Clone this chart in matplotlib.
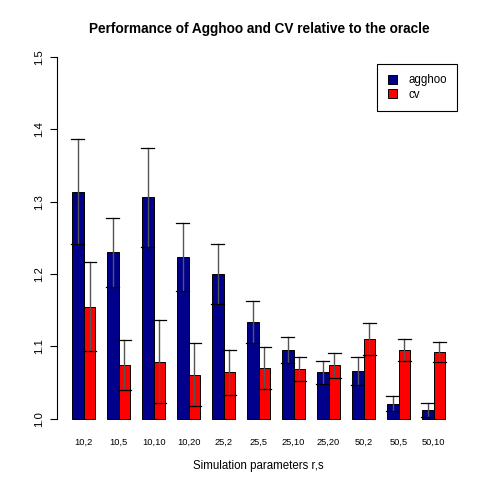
import numpy as np
import matplotlib
matplotlib.use('Agg')
import matplotlib.pyplot as plt
from matplotlib.patches import Patch

plt.rcParams['font.family'] = ['Liberation Sans', 'DejaVu Sans']

# data
params = ['10,2', '10,5', '10,10', '10,20', '25,2', '25,5',
          '25,10', '25,20', '50,2', '50,5', '50,10']
agghoo = [1.314, 1.230, 1.306, 1.223, 1.200, 1.134,
          1.095, 1.064, 1.066, 1.021, 1.012]
agghoo_err = [0.073, 0.048, 0.068, 0.047, 0.042, 0.029,
              0.018, 0.016, 0.020, 0.011, 0.010]
cv = [1.155, 1.074, 1.079, 1.061, 1.064, 1.070,
      1.069, 1.074, 1.110, 1.095, 1.092]
cv_err = [0.062, 0.035, 0.057, 0.043, 0.031, 0.029,
          0.017, 0.0175, 0.0225, 0.015, 0.0136]

fig = plt.figure(figsize=(4.9, 4.9), dpi=100)
ax = fig.add_axes([0.1165, 0.116, 0.8225, 0.797])

n = len(params)
left_a = 1 + 3 * np.arange(n)
left_c = left_a + 1

ax.bar(left_a, np.array(agghoo) - 1, width=1, bottom=1, align='edge',
       color='#00008B', edgecolor='black', linewidth=0.7)
ax.bar(left_c, np.array(cv) - 1, width=1, bottom=1, align='edge',
       color='#FF0000', edgecolor='black', linewidth=0.7)

# error bars: grey stem, black caps
for xs, vals, errs in [(left_a + 0.5, agghoo, agghoo_err), (left_c + 0.5, cv, cv_err)]:
    for x, v, e in zip(xs, vals, errs):
        ax.plot([x, x], [v - e, v + e], color='#555555', lw=1, zorder=3)
        ax.plot([x - 0.55, x + 0.55], [v + e, v + e], color='black', lw=0.9, zorder=3)
        ax.plot([x - 0.55, x + 0.55], [v - e, v - e], color='black', lw=0.9, zorder=3)

ax.set_xlim(-0.28, 34.28)
ax.set_ylim(0.98, 1.52)

for s in ['top', 'right', 'bottom']:
    ax.spines[s].set_visible(False)
ax.spines['left'].set_bounds(1.0, 1.5)
ax.spines['left'].set_linewidth(0.8)

ax.set_yticks([1.0, 1.1, 1.2, 1.3, 1.4, 1.5])
ax.set_yticklabels(['1.0', '1.1', '1.2', '1.3', '1.4', '1.5'], rotation=90,
                   va='center', fontsize=8.2)
ax.tick_params(axis='y', length=5, width=0.8, pad=4)

ax.set_xticks(left_a + 1)
ax.set_xticklabels(params, fontsize=6.7)
ax.tick_params(axis='x', length=0, pad=3)

ax.set_xlabel('Simulation parameters r,s', fontsize=8.3, labelpad=10)
fig.text(0.529, 1 - 29.5 / 490, 'Performance of Agghoo and CV relative to the oracle',
         ha='center', va='center', fontsize=9.8, fontweight='bold')

handles = [Patch(facecolor='#00008B', edgecolor='black', linewidth=0.7),
           Patch(facecolor='#FF0000', edgecolor='black', linewidth=0.7)]
leg = ax.legend(handles, ['agghoo', 'cv'], loc='upper right',
                bbox_to_anchor=(0.993, 0.9455), fontsize=8.3, frameon=True,
                fancybox=False, edgecolor='black', framealpha=1,
                handlelength=0.8, handleheight=0.8, handletextpad=1.0,
                borderpad=0.9, labelspacing=0.2, borderaxespad=0)
leg.get_frame().set_linewidth(0.8)

fig.savefig('out.png', dpi=100)
